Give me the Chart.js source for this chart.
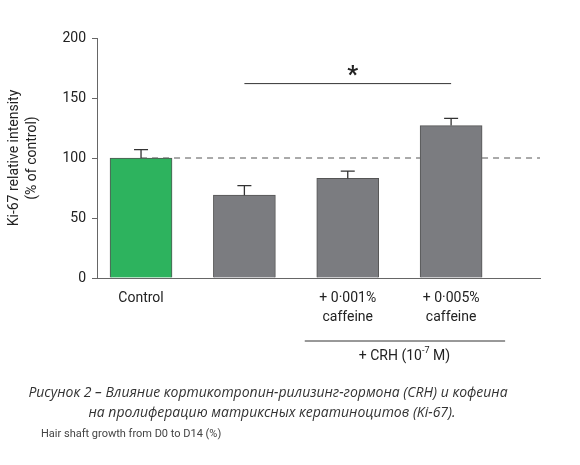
<!DOCTYPE html>
<html><head><meta charset="utf-8">
<script src="https://cdn.jsdelivr.net/npm/chart.js@4"></script>
<style>html,body{margin:0;padding:0;background:#fff}#w{width:580px;height:465px}</style>
</head><body><div id="w"><canvas id="c"></canvas></div>
<script>
const categories = ["Control", "CRH", "+ 0·001%\ncaffeine", "+ 0·005%\ncaffeine"];
const values = [100, 69, 83, 127];
const errTops = [107, 77, 89, 133];
const barColors = ["#2db35e", "#7b7c80", "#7b7c80", "#7b7c80"];
const yTicks = [0, 50, 100, 150, 200];

const fontF = "Roboto, 'Liberation Sans', sans-serif";
const deco = {
  id: 'deco',
  beforeDatasetsDraw(ch) {
    const c = ch.ctx, x = ch.scales.x, y = ch.scales.y;
    c.save(); c.strokeStyle = '#555'; c.lineWidth = 1; c.setLineDash([6, 5]);
    c.beginPath(); c.moveTo(x.getPixelForValue(1), y.getPixelForValue(100));
    c.lineTo(x.right, y.getPixelForValue(100)); c.stroke(); c.restore();
  },
  afterDraw(ch) {
    const c = ch.ctx, x = ch.scales.x, y = ch.scales.y;
    c.save();
    c.strokeStyle = '#333'; c.lineWidth = 1.3;
    values.forEach((v, i) => {
      const px = x.getPixelForValue(i + 1);
      const t = y.getPixelForValue(errTops[i]);
      c.beginPath(); c.moveTo(px, y.getPixelForValue(v)); c.lineTo(px, t);
      c.moveTo(px - 7, t); c.lineTo(px + 7, t); c.stroke();
    });
    c.lineWidth = 1;
    const sy = y.getPixelForValue(162);
    c.beginPath(); c.moveTo(x.getPixelForValue(2), sy); c.lineTo(x.getPixelForValue(4), sy); c.stroke();
    c.fillStyle = '#222'; c.textAlign = 'center'; c.textBaseline = 'middle';
    c.font = 'bold 24px ' + fontF;
    c.fillText('*', (x.getPixelForValue(2) + x.getPixelForValue(4)) / 2 + 5, 76);
    c.font = '14px ' + fontF; c.fillStyle = '#222';
    const by = y.getPixelForValue(0);
    categories.forEach((lab, i) => {
      if (i === 1) return;
      lab.split('\n').forEach((l, j) => c.fillText(l, x.getPixelForValue(i + 1), by + 20 + j * 19));
    });
    const ly = by + 63;
    c.beginPath(); c.moveTo(x.getPixelForValue(3) - 43, ly); c.lineTo(x.getPixelForValue(4) + 54, ly); c.stroke();
    const cx = (x.getPixelForValue(3) + x.getPixelForValue(4)) / 2 + 5;
    c.font = '14px ' + fontF;
    const a = '+ CRH (10', b = '-7', d = ' M)';
    const wa = c.measureText(a).width, wd = c.measureText(d).width;
    c.font = '9px ' + fontF; const wb = c.measureText(b).width;
    let sx = cx - (wa + wb + wd) / 2;
    c.textAlign = 'left';
    c.font = '14px ' + fontF; c.fillText(a, sx, ly + 15);
    c.font = '9px ' + fontF; c.fillText(b, sx + wa, ly + 10);
    c.font = '14px ' + fontF; c.fillText(d, sx + wa + wb, ly + 15);
    c.save(); c.translate(14, 158); c.rotate(-Math.PI / 2); c.textAlign = 'center';
    c.fillText('Ki-67 relative intensity', 0, 0);
    c.fillText('(% of control)', 0, 18); c.restore();
    c.textAlign = 'center'; c.fillStyle = '#333';
    c.font = "italic 14px 'Open Sans', sans-serif";
    c.fillText('Рисунок 2 – Влияние кортикотропин-рилизинг-гормона (CRH) и кофеина', 268, 393);
    c.fillText('на пролиферацию матриксных кератиноцитов (Ki-67).', 272, 413);
    c.textAlign = 'left'; c.font = "11px " + fontF; c.fillStyle = '#444';
    c.fillText('Hair shaft growth from D0 to D14 (%)', 41, 434);
    c.restore();
  }
};

new Chart(document.getElementById('c'), {
  type: 'bar',
  data: { datasets: [{ data: values.map((v, i) => ({ x: i + 1, y: v })), backgroundColor: barColors, borderColor: '#555', borderWidth: 1, barThickness: 62 }] },
  options: {
    responsive: true, maintainAspectRatio: false, animation: false,
    layout: { padding: { top: 38, right: 40, bottom: 187, left: 0 } },
    plugins: { legend: { display: false }, tooltip: { enabled: false } },
    scales: {
      x: { type: 'linear', offset: false, min: 0.574, max: 4.86, ticks: { display: false }, grid: { display: false, offset: false },
           border: { color: '#666' }, afterFit: s => { s.height = 0; } },
      y: { min: 0, max: 200, afterBuildTicks: s => { s.ticks = yTicks.map(v => ({ value: v })); },
           ticks: { color: '#222', font: { size: 14, family: fontF }, padding: 6 },
           grid: { drawOnChartArea: false, tickLength: 5, color: '#666' }, border: { color: '#666' },
           afterFit: s => { s.width = 97; } }
    }
  },
  plugins: [deco]
});
</script></body></html>
